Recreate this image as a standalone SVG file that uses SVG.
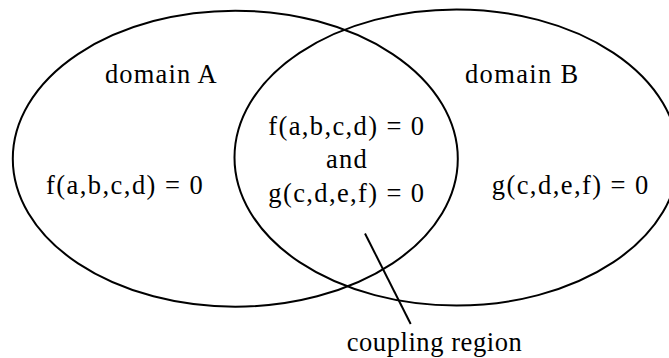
<svg xmlns="http://www.w3.org/2000/svg" width="669" height="358" viewBox="0 0 669 358">
<style>
.sh{fill:none;stroke:#000;stroke-width:2}
</style>
<rect width="669" height="358" fill="#fff"/>
<g font-family="Liberation Serif, DejaVu Serif, serif" font-size="26.5" fill="#000">
<g id="domainA">
<ellipse class="sh" cx="235.3" cy="158.7" rx="222.5" ry="148"/>
<text x="105" y="83.3" textLength="111.7">domain A</text>
<text x="46" y="194" textLength="156.7">f(a,b,c,d) = 0</text>
</g>
<g id="domainB">
<ellipse class="sh" cx="456.5" cy="157.5" rx="222" ry="148"/>
<text x="465" y="83.3" textLength="113.3">domain B</text>
<text x="491.7" y="194" textLength="156.6">g(c,d,e,f) = 0</text>
</g>
<g id="coupling">
<text x="268.3" y="135" textLength="155.7">f(a,b,c,d) = 0</text>
<text x="326" y="168.3" textLength="40.7">and</text>
<text x="268.3" y="201.7" textLength="155.7">g(c,d,e,f) = 0</text>
<text x="346.7" y="350.5" textLength="175">coupling region</text>
</g>
</g>
<g id="connectors">
<line class="sh" x1="365" y1="233.5" x2="410.7" y2="324"/>
</g>
</svg>
